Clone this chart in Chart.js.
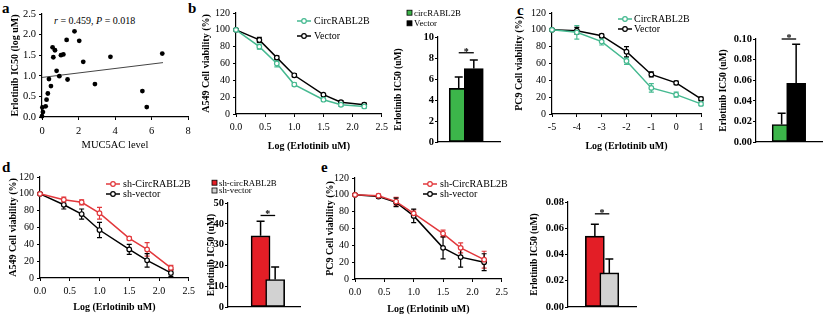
<!DOCTYPE html>
<html>
<head>
<meta charset="utf-8">
<script src="https://cdn.jsdelivr.net/npm/chart.js@4.4.1/dist/chart.umd.min.js"></script>
<style>
html, body { margin: 0; padding: 0; background: #fff; }
#fig { position: relative; width: 824px; height: 320px; overflow: hidden; font-family: "Liberation Serif", "Times New Roman", serif; }
#fig canvas { position: absolute; }
.tag { position: absolute; font-weight: bold; font-size: 15px; line-height: 15px; }
.note { position: absolute; font-size: 10px; line-height: 12px; white-space: nowrap; }
</style>
</head>
<body>
<div id="fig">
	<div class="tag" style="left:2px;top:1px">a</div>
	<div class="tag" style="left:188px;top:1px">b</div>
	<div class="tag" style="left:517px;top:3px">c</div>
	<div class="tag" style="left:2px;top:160px">d</div>
	<div class="tag" style="left:321px;top:160px">e</div>
	<div class="note" style="left:54px;top:15px"><i>r</i> = 0.459, <i>P</i> = 0.018</div>
</div>
<script>
// a: MUC5AC level vs erlotinib IC50 (log uM)
const mucLevel = [0, 0.02, 0.05, 0.2, 0.25, 0.32, 0.38, 0.49, 0.58, 0.62, 0.71, 0.8, 0.95, 1.04, 1.17, 1.35, 1.4, 1.78, 2.04, 2.26, 2.9, 3.75, 5.5, 5.74, 6.59];
const icLog = [0.02, 0.23, 0.12, 0.26, 0.42, 0.57, 0.92, 0.75, 1.69, 1.45, 1.62, 1.12, 0.99, 1.5, 1.52, 1.87, 0.91, 2.08, 1.85, 1.34, 0.8, 1.46, 0.63, 0.24, 1.54];
const fitX = [0, 6.63];
const fitY = [0.96, 1.32];

// b, d, e doses (log uM); c doses
const doseLog = [0, 0.4, 0.7, 1.0, 1.5, 1.8, 2.2];
const doseC = [-5, -4, -3, -2, -1, 0, 1];

// b: A549 overexpression
const circB = [100, 80, 60, 35, 17, 11, 9];
const circBErr = [1, 3, 4, 2, 2, 2, 2];
const vecB = [100, 88, 67, 46, 23, 14, 11];
const vecBErr = [1, 3, 2, 2, 1, 2, 2];
const icB = [5.1, 7.0];
const icBErr = [1.1, 0.8];

// c: PC9 overexpression
const circC = [100, 97, 86, 63, 31, 23, 12];
const circCErr = [1, 8, 4, 4, 5, 3, 2];
const vecC = [100, 99, 93, 74, 47, 37, 18];
const vecCErr = [1, 4, 2, 6, 3, 2, 2];
const icC = [0.017, 0.057];
const icCErr = [0.011, 0.038];

// d: A549 knockdown
const shCircD = [100, 93, 90, 77, 47, 34, 12];
const shCircDErr = [1, 3, 3, 7, 2, 8, 3];
const shVecD = [100, 87, 76, 57, 34, 21, 6];
const shVecDErr = [1, 5, 6, 9, 6, 8, 4];
const icD = [34.2, 13.2];
const icDErr = [7, 6];

// e: PC9 knockdown
const shCircE = [100, 99, 92, 78, 54, 37, 23];
const shCircEErr = [1, 2, 5, 4, 4, 6, 10];
const shVecE = [100, 98, 91, 75, 37, 26, 20];
const shVecEErr = [1, 2, 5, 8, 13, 12, 10];
const icE = [0.054, 0.026];
const icEErr = [0.009, 0.0105];

const overLabels = ['CircRABL2B', 'Vector'];
const overBarLabels = ['circRABL2B', 'Vector'];
const shLabels = ['sh-CircRABL2B', 'sh-vector'];
const shBarLabels = ['sh-circRABL2B', 'sh-vector'];
const barSlots = [1, 2];

const SERIF = '"Liberation Serif", "Times New Roman", serif';
const TEAL = '#45b990';
const GREEN = '#3cb54a';
const RED = '#e2383c';
const RED_BAR = '#e31e26';
const GREY_BAR = '#d2d2d2';

function pts(xs, ys) {
	return xs.map((x, i) => ({ x, y: ys[i] }));
}

function mount(box, plot) {
	const cv = document.createElement('canvas');
	cv.width = box.r - box.l;
	cv.height = box.b - box.t;
	cv.style.left = box.l + 'px';
	cv.style.top = box.t + 'px';
	document.getElementById('fig').appendChild(cv);
	return {
		cv,
		box,
		m: { l: plot.l - box.l, t: plot.t - box.t, r: box.r - plot.r, b: box.b - plot.b }
	};
}

// error bars: both ways on lines (under markers), upward only on bars
function drawErrors(chart, kind) {
	const ctx = chart.ctx;
	const ys = chart.scales.y;
	chart.data.datasets.forEach((ds, i) => {
		if (!ds.errors) return;
		const meta = chart.getDatasetMeta(i);
		if (meta.type !== kind) return;
		meta.data.forEach((el, j) => {
			const v = ds.data[j].y;
			const e = ds.errors[j];
			const top = ys.getPixelForValue(v + e);
			const bot = kind === 'bar' ? el.y : ys.getPixelForValue(v - e);
			const cap = kind === 'bar' ? 4 : 2.5;
			ctx.save();
			ctx.strokeStyle = kind === 'bar' ? '#000' : ds.borderColor;
			ctx.lineWidth = kind === 'bar' ? 1.5 : 1.2;
			ctx.beginPath();
			ctx.moveTo(el.x, bot);
			ctx.lineTo(el.x, top);
			ctx.moveTo(el.x - cap, top);
			ctx.lineTo(el.x + cap, top);
			if (kind !== 'bar') {
				ctx.moveTo(el.x - cap, bot);
				ctx.lineTo(el.x + cap, bot);
			}
			ctx.stroke();
			ctx.restore();
		});
	});
}

Chart.register({
	id: 'errorBars',
	beforeDatasetsDraw(chart) { drawErrors(chart, 'line'); },
	afterDatasetsDraw(chart) { drawErrors(chart, 'bar'); }
});

function lineKey(p, x, y, dy, textGap) {
	return {
		id: 'lineKey',
		afterDraw(chart) {
			const ctx = chart.ctx;
			chart.data.datasets.forEach((ds, i) => {
				const xx = x - p.box.l;
				const yy = y + i * dy - p.box.t;
				ctx.save();
				ctx.strokeStyle = ds.borderColor;
				ctx.lineWidth = 1.5;
				ctx.beginPath();
				ctx.moveTo(xx, yy);
				ctx.lineTo(xx + 14, yy);
				ctx.stroke();
				ctx.beginPath();
				ctx.arc(xx + 7, yy, 2.3, 0, Math.PI * 2);
				ctx.fillStyle = '#fff';
				ctx.fill();
				ctx.lineWidth = 1.2;
				ctx.stroke();
				ctx.fillStyle = '#000';
				ctx.font = '10px ' + SERIF;
				ctx.textBaseline = 'middle';
				ctx.fillText(ds.label, xx + textGap, yy + 0.5);
				ctx.restore();
			});
		}
	};
}

function boxKey(p, labels, colors, x, y, dy) {
	return {
		id: 'boxKey',
		afterDraw(chart) {
			const ctx = chart.ctx;
			labels.forEach((label, i) => {
				const xx = x - p.box.l;
				const yy = y + i * dy - p.box.t;
				ctx.save();
				ctx.fillStyle = colors[i];
				ctx.fillRect(xx, yy - 2.5, 5, 5);
				ctx.strokeStyle = '#000';
				ctx.lineWidth = 0.8;
				ctx.strokeRect(xx, yy - 2.5, 5, 5);
				ctx.fillStyle = '#000';
				ctx.font = '8.8px ' + SERIF;
				ctx.textBaseline = 'middle';
				ctx.fillText(label, xx + 7, yy + 0.5);
				ctx.restore();
			});
		}
	};
}

function sigMark(level) {
	return {
		id: 'sigMark',
		afterDatasetsDraw(chart) {
			const ctx = chart.ctx;
			const x1 = chart.scales.x.getPixelForValue(barSlots[0]);
			const x2 = chart.scales.x.getPixelForValue(barSlots[1]);
			const yy = chart.scales.y.getPixelForValue(level);
			ctx.save();
			ctx.strokeStyle = '#000';
			ctx.lineWidth = 1.3;
			ctx.beginPath();
			ctx.moveTo(x1, yy);
			ctx.lineTo(x2, yy);
			ctx.stroke();
			ctx.fillStyle = '#000';
			ctx.font = 'bold 10px ' + SERIF;
			ctx.textAlign = 'center';
			ctx.textBaseline = 'alphabetic';
			ctx.fillText('*', (x1 + x2) / 2, yy + 2);
			ctx.restore();
		}
	};
}

function axisBase(size, bold) {
	return {
		grid: { display: true, drawOnChartArea: false, drawTicks: true, tickLength: 3, color: '#000', lineWidth: 1 },
		border: { display: true, color: '#000', width: 1.2 },
		ticks: { color: '#000', font: { family: SERIF, size, weight: bold ? 'bold' : 'normal' } }
	};
}

function title(text, size, pad) {
	return { display: true, text, color: '#000', font: { family: SERIF, size, weight: 'bold' }, padding: pad };
}

function lineSeries(label, color, ys, errs, xs) {
	return {
		label,
		data: pts(xs, ys),
		errors: errs,
		borderColor: color,
		backgroundColor: color,
		borderWidth: 1.5,
		pointRadius: 2.3,
		pointBorderWidth: 1.2,
		pointBackgroundColor: '#fff',
		pointBorderColor: color,
		tension: 0,
		clip: false
	};
}

function viabilityChart(box, plot, xs, xTicks, yTitle, sets, key) {
	const p = mount(box, plot);
	const xAxis = axisBase(10, false);
	const yAxis = axisBase(10, false);
	new Chart(p.cv, {
		type: 'line',
		data: { datasets: sets },
		options: {
			responsive: false,
			animation: false,
			events: [],
			layout: { padding: { left: 0, top: p.m.t, right: p.m.r, bottom: 0 } },
			plugins: { legend: { display: false }, tooltip: { enabled: false } },
			scales: {
				x: Object.assign(xAxis, {
					type: 'linear',
					min: xTicks.min,
					max: xTicks.max,
					ticks: Object.assign(xAxis.ticks, {
						stepSize: xTicks.step,
						padding: 4,
						maxRotation: 0,
						callback: (v) => xTicks.fmt(v)
					}),
					title: title('Log (Erlotinib uM)', 10, { top: 0, bottom: 2 }),
					afterFit: (s) => { s.height = p.m.b; }
				}),
				y: Object.assign(yAxis, {
					min: 0,
					max: 120,
					ticks: Object.assign(yAxis.ticks, { stepSize: 20, padding: 3 }),
					title: title(yTitle, 10, { top: 3, bottom: 0 }),
					afterFit: (s) => { s.width = p.m.l; }
				})
			}
		},
		plugins: [lineKey(p, key.x, key.y, key.dy, key.gap)]
	});
}

function icChart(box, plot, xRange, vals, errs, colors, yTicks, sig, key, titlePad) {
	const p = mount(box, plot);
	const xAxis = axisBase(10, true);
	const yAxis = axisBase(10.5, true);
	new Chart(p.cv, {
		type: 'bar',
		data: {
			datasets: [{
				data: pts(barSlots, vals),
				errors: errs,
				backgroundColor: colors,
				borderColor: '#000',
				borderWidth: 1.6,
				borderSkipped: false,
				barThickness: 19
			}]
		},
		options: {
			responsive: false,
			animation: false,
			events: [],
			layout: { padding: { left: 0, top: p.m.t, right: p.m.r, bottom: 0 } },
			plugins: { legend: { display: false }, tooltip: { enabled: false } },
			scales: {
				x: Object.assign(xAxis, {
					type: 'linear',
					min: xRange[0],
					max: xRange[1],
					grid: { display: false },
					ticks: { display: false },
					afterFit: (s) => { s.height = p.m.b; }
				}),
				y: Object.assign(yAxis, {
					min: 0,
					max: yTicks.max,
					ticks: Object.assign(yAxis.ticks, {
						stepSize: yTicks.step,
						padding: 1,
						callback: (v) => v.toFixed(yTicks.dp)
					}),
					title: title('Erlotinib IC50 (uM)', 9.5, { top: titlePad, bottom: 0 }),
					afterFit: (s) => { s.width = p.m.l; }
				})
			}
		},
		plugins: [sigMark(sig), boxKey(p, key.labels, colors, key.x, key.y, key.dy)]
	});
}

// panel a
(() => {
	const p = mount({ l: 6, t: 4, r: 198, b: 154 }, { l: 42, t: 14, r: 188, b: 117 });
	const xAxis = axisBase(10.5, false);
	const yAxis = axisBase(10.5, false);
	new Chart(p.cv, {
		type: 'scatter',
		data: {
			datasets: [
				{
					data: pts(mucLevel, icLog),
					pointRadius: 2.4,
					pointBorderWidth: 0,
					backgroundColor: '#000',
					clip: false
				},
				{
					type: 'line',
					data: pts(fitX, fitY),
					borderColor: '#444',
					borderWidth: 1,
					pointRadius: 0
				}
			]
		},
		options: {
			responsive: false,
			animation: false,
			events: [],
			layout: { padding: { left: 0, top: p.m.t, right: p.m.r, bottom: 0 } },
			plugins: { legend: { display: false }, tooltip: { enabled: false } },
			scales: {
				x: Object.assign(xAxis, {
					min: 0,
					max: 8,
					ticks: Object.assign(xAxis.ticks, { stepSize: 2, padding: 5 }),
					title: { display: true, text: 'MUC5AC level', color: '#000', font: { family: SERIF, size: 10.5 }, padding: { top: 0, bottom: 2 } },
					afterFit: (s) => { s.height = p.m.b; }
				}),
				y: Object.assign(yAxis, {
					min: 0,
					max: 2.5,
					ticks: Object.assign(yAxis.ticks, { stepSize: 0.5, padding: 3, callback: (v) => v.toFixed(1) }),
					title: title('Erlotinib IC50 (log uM)', 10, { top: 3, bottom: 0 }),
					afterFit: (s) => { s.width = p.m.l; }
				})
			}
		}
	});
})();

const logTicks = { min: 0, max: 2.5, step: 0.5, fmt: (v) => v.toFixed(1) };
const cTicks = { min: -5, max: 1, step: 1, fmt: (v) => String(v) };

viabilityChart({ l: 197, t: 3, r: 392, b: 154 }, { l: 236, t: 13, r: 382, b: 114 }, doseLog, logTicks,
	'A549 Cell viability (%)',
	[lineSeries(overLabels[0], TEAL, circB, circBErr, doseLog), lineSeries(overLabels[1], '#000', vecB, vecBErr, doseLog)],
	{ x: 297, y: 21, dy: 15, gap: 17 });

icChart({ l: 390, t: 4, r: 504, b: 150 }, { l: 438, t: 37, r: 500, b: 142 }, [0.653, 2.71],
	icB, icBErr, [GREEN, '#000'], { max: 10, step: 2, dp: 0 }, 8.5,
	{ labels: overBarLabels, x: 407, y: 12.7, dy: 10.6 }, 3);

viabilityChart({ l: 510, t: 3, r: 711, b: 154 }, { l: 552, t: 13, r: 701, b: 114 }, doseC, cTicks,
	'PC9 Cell viability (%)',
	[lineSeries(overLabels[0], TEAL, circC, circCErr, doseC), lineSeries(overLabels[1], '#000', vecC, vecCErr, doseC)],
	{ x: 618, y: 19, dy: 10, gap: 16 });

icChart({ l: 715, t: 4, r: 824, b: 150 }, { l: 756, t: 39, r: 822, b: 142 }, [0.369, 2.645],
	icC, icCErr, [GREEN, '#000'], { max: 0.1, step: 0.02, dp: 2 }, 0.1,
	{ labels: [], x: 0, y: 0, dy: 0 }, 3);

viabilityChart({ l: 4, t: 167, r: 199, b: 315 }, { l: 40, t: 177, r: 189, b: 278 }, doseLog, logTicks,
	'A549 Cell viability (%)',
	[lineSeries(shLabels[0], RED, shCircD, shCircDErr, doseLog), lineSeries(shLabels[1], '#000', shVecD, shVecDErr, doseLog)],
	{ x: 106, y: 184, dy: 10, gap: 17 });

icChart({ l: 205, t: 170, r: 304, b: 316 }, { l: 228, t: 203, r: 300, b: 307 }, [0, 2.47],
	icD, icDErr, [RED_BAR, GREY_BAR], { max: 50, step: 10, dp: 0 }, 44,
	{ labels: shBarLabels, x: 212, y: 182.7, dy: 7.8 }, 1);

viabilityChart({ l: 321, t: 168, r: 512, b: 317 }, { l: 355, t: 178, r: 502, b: 279 }, doseLog, logTicks,
	'PC9 Cell viability (%)',
	[lineSeries(shLabels[0], RED, shCircE, shCircEErr, doseLog), lineSeries(shLabels[1], '#000', shVecE, shVecEErr, doseLog)],
	{ x: 423, y: 184, dy: 10, gap: 17 });

icChart({ l: 526, t: 170, r: 640, b: 316 }, { l: 568, t: 202, r: 636, b: 307 }, [0.317, 2.672],
	icE, icEErr, [RED_BAR, GREY_BAR], { max: 0.08, step: 0.02, dp: 2 }, 0.071,
	{ labels: [], x: 0, y: 0, dy: 0 }, 3);
</script>
</body>
</html>
